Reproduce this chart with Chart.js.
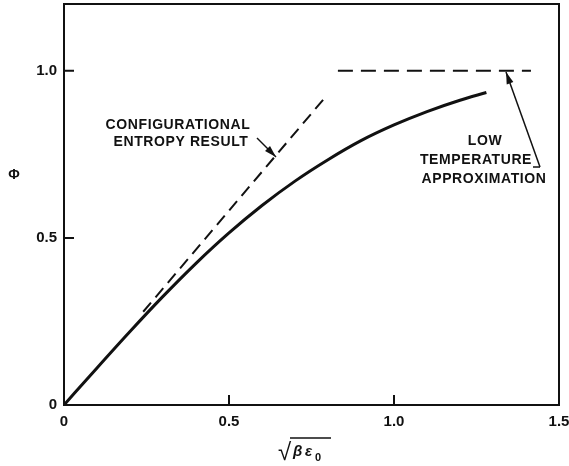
<!DOCTYPE html>
<html>
<head>
<meta charset="utf-8">
<script src="https://cdn.jsdelivr.net/npm/chart.js@4"></script>
<style>
  html, body { margin: 0; padding: 0; background: #fff; }
  #wrap { width: 569px; height: 466px; }
</style>
</head>
<body>
<div id="wrap"><canvas id="cv" width="569" height="466"></canvas></div>
<script>
// ===== data =====
const xVals   = [0, 0.1, 0.2, 0.3, 0.4, 0.5, 0.6, 0.7, 0.8, 0.9, 1.0, 1.1, 1.2, 1.28];
const phiVals = [0, 0.111, 0.220, 0.325, 0.424, 0.515, 0.597, 0.670, 0.734, 0.791, 0.838, 0.878, 0.912, 0.935];
const entropyX = [0.24, 0.79];     // configurational entropy result (dashed)
const entropyY = [0.279, 0.919];
const lowTX = [0.83, 1.415];       // low temperature approximation (dashed)
const lowTY = [1.0, 1.0];
const xTicks = [0, 0.5, 1.0, 1.5];
const yTicks = [0, 0.5, 1.0];

const FONT = "'Liberation Sans', Arial, sans-serif";
const INK = "#111";

const pts = (xs, ys) => xs.map((x, i) => ({ x: x, y: ys[i] }));
const lbl = v => (v === 0 ? "0" : v.toFixed(1));

function arrow(ctx, x1, y1, x2, y2) {
  const a = Math.atan2(y2 - y1, x2 - x1);
  ctx.beginPath(); ctx.moveTo(x1, y1); ctx.lineTo(x2, y2); ctx.stroke();
  ctx.beginPath();
  ctx.moveTo(x2, y2);
  ctx.lineTo(x2 - 12 * Math.cos(a) + 3.5 * Math.sin(a), y2 - 12 * Math.sin(a) - 3.5 * Math.cos(a));
  ctx.lineTo(x2 - 12 * Math.cos(a) - 3.5 * Math.sin(a), y2 - 12 * Math.sin(a) + 3.5 * Math.cos(a));
  ctx.closePath(); ctx.fill();
}

// frame, inward ticks, titles and notes
const decor = {
  id: "decor",
  afterDraw(chart) {
    const { ctx, chartArea: ca, scales } = chart;
    ctx.save();
    ctx.strokeStyle = INK; ctx.fillStyle = INK; ctx.lineWidth = 2;
    ctx.strokeRect(ca.left, ca.top, ca.right - ca.left, ca.bottom - ca.top);
    ctx.beginPath();
    [0.5, 1.0].forEach(v => {
      const px = scales.x.getPixelForValue(v);
      ctx.moveTo(px, ca.bottom); ctx.lineTo(px, ca.bottom - 10);
      const py = scales.y.getPixelForValue(v);
      ctx.moveTo(ca.left, py); ctx.lineTo(ca.left + 10, py);
    });
    ctx.stroke();

    // y title
    ctx.font = "bold 14px " + FONT;
    ctx.textAlign = "center"; ctx.textBaseline = "middle";
    ctx.fillText("Φ", 14, 175);

    // x title  √ βε0 with overline
    ctx.font = "24px " + FONT;
    ctx.textAlign = "left"; ctx.textBaseline = "alphabetic";
    ctx.fillText("√", 278, 460);
    ctx.lineWidth = 1.5;
    ctx.beginPath(); ctx.moveTo(290, 438); ctx.lineTo(331, 438); ctx.stroke();
    ctx.font = "italic bold 15px " + FONT;
    ctx.fillText("β", 293, 456);
    ctx.fillText("ε", 305, 456);
    ctx.font = "bold 11px " + FONT;
    ctx.fillText("0", 315, 461);

    // notes
    ctx.font = "bold 14px " + FONT;
    ctx.letterSpacing = "0.6px";
    ctx.textAlign = "center"; ctx.textBaseline = "middle";
    ctx.fillText("CONFIGURATIONAL", 178, 125);
    ctx.fillText("ENTROPY RESULT", 181, 142);
    ctx.fillText("LOW", 485, 141);
    ctx.fillText("TEMPERATURE", 476, 160);
    ctx.fillText("APPROXIMATION", 484, 179);
    ctx.letterSpacing = "0px";

    ctx.lineWidth = 1.5;
    arrow(ctx, 257, 138, 276, 157);
    ctx.beginPath(); ctx.moveTo(533, 167); ctx.lineTo(540, 167); ctx.stroke();
    arrow(ctx, 540, 167, 506, 72);
    ctx.restore();
  }
};

new Chart(document.getElementById("cv").getContext("2d"), {
  type: "scatter",
  data: {
    datasets: [
      { data: pts(xVals, phiVals), showLine: true, borderColor: INK, borderWidth: 3,
        pointRadius: 0, tension: 0.4, cubicInterpolationMode: "monotone" },
      { data: pts(entropyX, entropyY), showLine: true, borderColor: INK, borderWidth: 2,
        borderDash: [12, 7], pointRadius: 0 },
      { data: pts(lowTX, lowTY), showLine: true, borderColor: INK, borderWidth: 2,
        borderDash: [15, 8], pointRadius: 0 }
    ]
  },
  options: {
    responsive: false,
    animation: false,
    layout: { padding: { top: 4, right: 10, left: 0, bottom: 0 } },
    plugins: { legend: { display: false }, tooltip: { enabled: false } },
    scales: {
      x: {
        min: 0, max: 1.5,
        afterBuildTicks: s => { s.ticks = xTicks.map(v => ({ value: v })); },
        afterFit: s => { s.height = 61; s.paddingLeft = 0; s.paddingRight = 0; },
        grid: { display: false, drawTicks: false },
        border: { display: false },
        ticks: { callback: lbl, color: INK, padding: 8, maxRotation: 0,
                 font: { family: FONT, size: 15, weight: "bold" } }
      },
      y: {
        min: 0, max: 1.2,
        afterBuildTicks: s => { s.ticks = yTicks.map(v => ({ value: v })); },
        afterFit: s => { s.width = 64; s.paddingTop = 0; s.paddingBottom = 0; },
        grid: { display: false, drawTicks: false },
        border: { display: false },
        ticks: { callback: lbl, color: INK, padding: 7,
                 font: { family: FONT, size: 15, weight: "bold" } }
      }
    }
  },
  plugins: [decor]
});
</script>
</body>
</html>
